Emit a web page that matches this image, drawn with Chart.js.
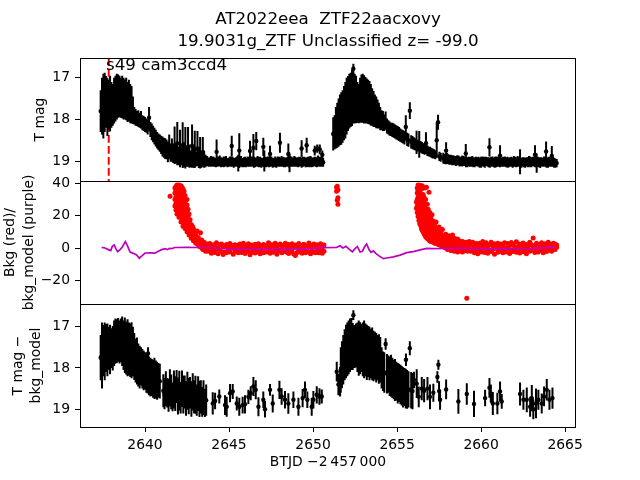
<!DOCTYPE html>
<html>
<head>
<meta charset="utf-8">
<title>AT2022eea light curve</title>
<script src="https://cdn.jsdelivr.net/npm/chart.js@4.4.1/dist/chart.umd.min.js"></script>
<style>
  html, body { margin: 0; padding: 0; background: #fff; }
  #fig { position: relative; width: 640px; height: 480px; overflow: hidden; }
  #fig canvas { position: absolute; left: 0; }
</style>
</head>
<body>
<div id="fig">
  <canvas id="lc" width="640" height="200" style="top:0"></canvas>
  <canvas id="bkg" width="640" height="170" style="top:160px"></canvas>
  <canvas id="sub" width="640" height="190" style="top:290px"></canvas>
</div>
<script>
// ---- labels / axes ----
const titleLines = ['AT2022eea  ZTF22aacxovy', '19.9031g_ZTF Unclassified z= -99.0'];
const sectorLabel = 's49 cam3ccd4';
const sectorLabelAt = [2637.68, 16.82];
const eventTime = 2637.84;
const xMin = 2636.13, xMax = 2665.65;
const timeTicks = [2640, 2645, 2650, 2655, 2660, 2665];
const magTicks = [17, 18, 19];
const bkgTicks = [-20, 0, 20, 40];

// ---- top panel: T mag  [time, mag, err] ----
const topRise1 = [
  [2637.36,17.80,0.50],[2637.44,17.68,0.68],[2637.52,17.68,0.78],[2637.60,17.59,0.71],[2637.68,17.58,0.62],[2637.76,17.70,0.70],[2637.84,17.65,0.60],[2637.92,17.62,0.67],[2638.00,17.65,0.55],[2638.08,17.65,0.50],
  [2638.16,17.55,0.55],[2638.24,17.50,0.55],[2638.32,17.45,0.55],[2638.40,17.44,0.52],[2638.48,17.45,0.50],[2638.56,17.48,0.48],[2638.64,17.46,0.51],[2638.72,17.50,0.50],[2638.80,17.52,0.48],[2638.88,17.51,0.51],
  [2638.96,17.58,0.48],[2639.04,17.55,0.50],[2639.12,17.62,0.47],[2639.20,17.65,0.45],[2639.28,17.78,0.33],[2639.36,17.91,0.21],[2639.44,17.95,0.20],[2639.52,17.98,0.18],[2639.60,17.98,0.20],[2639.68,18.02,0.18],
  [2639.76,18.01,0.21],[2639.84,18.08,0.18],[2639.92,18.10,0.18],[2640.00,18.12,0.18],[2640.08,18.15,0.17],[2640.16,18.18,0.18],[2640.24,17.96,0.26],[2640.32,18.24,0.18],[2640.40,18.30,0.20],[2640.48,18.35,0.20],
  [2640.56,18.40,0.20],[2640.64,18.45,0.20],[2640.72,18.50,0.20],[2640.80,18.54,0.20],[2640.88,18.57,0.21],[2640.96,18.61,0.22],[2641.04,18.65,0.24],[2641.12,18.68,0.24],[2641.20,18.70,0.25]
];
const topDecline1 = [
  [2641.28,18.72,0.24],[2641.36,18.78,0.25],[2641.44,18.66,0.30],[2641.52,18.80,0.22],[2641.60,18.74,0.28],[2641.68,18.85,0.20],[2641.76,18.62,0.45],[2641.84,18.82,0.24],[2641.92,18.58,0.52],[2642.00,18.88,0.22],
  [2642.08,18.70,0.45],[2642.16,18.90,0.20],[2642.24,18.62,0.55],[2642.32,18.85,0.30],[2642.40,18.68,0.50],[2642.48,18.92,0.22],[2642.56,18.66,0.48],[2642.64,18.88,0.28],[2642.72,18.95,0.20],[2642.80,18.64,0.52],
  [2642.88,18.90,0.26],[2642.96,18.72,0.45],[2643.04,18.95,0.18],[2643.12,18.70,0.42],[2643.20,18.92,0.25],[2643.28,18.80,0.38],[2643.36,18.98,0.18],[2643.44,18.78,0.36],[2643.52,18.96,0.20],[2643.60,19.00,0.15]
];
const topQuiet1 = [
  [2643.70,19.00,0.12],[2643.85,19.02,0.11],[2644.00,19.01,0.12],[2644.15,19.03,0.11],[2644.30,19.02,0.12],[2644.45,19.00,0.13],[2644.60,19.03,0.11],[2644.75,19.02,0.12],[2644.90,19.04,0.11],[2645.05,19.01,0.12],
  [2645.20,19.02,0.12],[2645.35,19.03,0.11],[2645.50,19.01,0.13],[2645.65,19.02,0.12],[2645.80,19.04,0.11],[2645.95,19.02,0.12],[2646.10,19.01,0.12],[2646.25,19.03,0.11],[2646.40,19.02,0.12],[2646.55,19.04,0.11],
  [2646.70,19.01,0.13],[2646.85,19.02,0.12],[2647.00,19.03,0.11],[2647.15,19.02,0.12],[2647.30,19.01,0.12],[2647.45,19.03,0.11],[2647.60,19.04,0.12],[2647.75,19.02,0.13],[2647.90,19.01,0.12],[2648.05,19.03,0.11],
  [2648.20,19.02,0.12],[2648.35,19.04,0.11],[2648.50,19.02,0.12],[2648.65,19.01,0.13],[2648.80,19.03,0.11],[2648.95,19.02,0.12],[2649.10,19.03,0.12],[2649.25,19.01,0.11],[2649.40,19.02,0.12],[2649.55,19.04,0.11],
  [2649.70,19.02,0.12],[2649.85,19.01,0.13],[2650.00,19.03,0.11],[2650.15,19.02,0.12],[2650.30,19.00,0.13],[2650.45,19.02,0.12],[2650.60,19.03,0.11]
];
const topQuiet1b = [
  [2643.78,19.03,0.11],[2643.92,19.01,0.13],[2644.08,19.02,0.12],[2644.22,19.04,0.11],[2644.38,19.01,0.12],[2644.52,19.03,0.12],[2644.68,19.02,0.13],[2644.82,19.00,0.12],[2644.98,19.03,0.11],[2645.12,19.02,0.12],
  [2645.28,19.04,0.12],[2645.42,19.02,0.11],[2645.58,19.03,0.12],[2645.72,19.01,0.13],[2645.88,19.03,0.12],[2646.02,19.04,0.11],[2646.18,19.02,0.12],[2646.32,19.01,0.12],[2646.48,19.03,0.13],[2646.62,19.02,0.11],
  [2646.78,19.03,0.12],[2646.92,19.04,0.12],[2647.08,19.01,0.11],[2647.22,19.03,0.12],[2647.38,19.02,0.13],[2647.52,19.01,0.12],[2647.68,19.03,0.11],[2647.82,19.04,0.12],[2647.98,19.02,0.12],[2648.12,19.01,0.13],
  [2648.28,19.03,0.12],[2648.42,19.02,0.11],[2648.58,19.04,0.12],[2648.72,19.02,0.12],[2648.88,19.01,0.13],[2649.02,19.03,0.11],[2649.18,19.02,0.12],[2649.32,19.04,0.12],[2649.48,19.01,0.11],[2649.62,19.03,0.12],
  [2649.78,19.02,0.13],[2649.92,19.03,0.12],[2650.08,19.01,0.11],[2650.22,19.03,0.12],[2650.38,19.02,0.12],[2650.52,19.01,0.13]
];
const topSpikes1 = [
  [2644.26,18.78,0.30],[2645.16,18.64,0.25],[2645.55,19.05,0.20],[2645.61,18.75,0.42],[2646.25,18.76,0.25],[2646.45,18.68,0.33],[2646.62,18.52,0.22],[2647.04,18.66,0.22],[2647.10,19.00,0.25],[2647.44,18.83,0.20],
  [2648.03,18.56,0.24],[2648.53,18.83,0.25],[2648.60,19.05,0.22],[2649.32,18.70,0.20],[2649.62,18.62,0.18],[2650.10,18.75,0.12],[2650.25,18.70,0.10],[2650.40,18.72,0.12],[2650.55,18.85,0.10]
];
const topRise2 = [
  [2651.20,18.35,0.40],[2651.28,18.31,0.41],[2651.36,18.20,0.50],[2651.44,18.14,0.54],[2651.52,18.08,0.58],[2651.60,18.01,0.61],[2651.68,17.98,0.63],[2651.76,17.93,0.63],[2651.84,17.85,0.65],[2651.92,17.78,0.68],
  [2652.00,17.68,0.68],[2652.08,17.62,0.66],[2652.16,17.56,0.66],[2652.24,17.53,0.65],[2652.32,17.48,0.68],[2652.40,16.78,0.12],[2652.42,17.50,0.60],[2652.48,17.50,0.60],[2652.56,17.52,0.57],[2652.64,17.59,0.49],
  [2652.72,17.62,0.47],[2652.80,17.54,0.54],[2652.88,17.50,0.58],[2652.96,17.49,0.59],[2653.04,17.52,0.58],[2653.12,17.54,0.56],[2653.20,17.56,0.54],[2653.28,17.58,0.53],[2653.36,17.60,0.52],[2653.44,17.65,0.50],
  [2653.52,17.70,0.45],[2653.60,17.75,0.43],[2653.68,17.79,0.39],[2653.76,17.83,0.38],[2653.84,17.87,0.35],[2653.92,17.91,0.31],[2654.00,17.98,0.28],[2654.08,18.02,0.24],[2654.16,18.04,0.24],[2654.24,18.08,0.20],
  [2654.32,18.03,0.22],[2654.40,18.16,0.18],[2654.48,18.19,0.17],[2654.56,18.22,0.17],[2654.64,18.24,0.16],[2654.72,18.25,0.17],[2654.80,18.27,0.17],[2654.88,18.29,0.17],[2654.96,18.31,0.17],[2655.04,18.33,0.17],
  [2655.12,18.35,0.17],[2655.20,18.38,0.16],[2655.28,18.40,0.16],[2655.36,18.42,0.16],[2655.44,18.44,0.16],[2655.52,18.18,0.28],[2655.60,18.48,0.16],[2655.68,18.50,0.16],[2655.76,17.79,0.20],[2655.84,18.54,0.16],
  [2655.92,18.56,0.16],[2656.00,18.58,0.15],[2656.08,18.60,0.15],[2656.16,18.55,0.28],[2656.24,18.63,0.14],[2656.32,18.60,0.32],[2656.40,18.66,0.14],[2656.48,18.68,0.14],[2656.56,18.70,0.13],[2656.64,18.72,0.13],
  [2656.72,18.57,0.26],[2656.80,18.75,0.13],[2656.88,18.77,0.12],[2656.96,18.78,0.12],[2657.04,18.80,0.12],[2657.12,18.82,0.12],[2657.20,18.83,0.11],[2657.28,18.85,0.11],[2657.36,18.50,0.42],[2657.44,18.07,0.18],
  [2657.52,18.89,0.11],[2657.60,18.91,0.11]
];
const topQuiet2 = [
  [2657.75,18.93,0.13],[2657.90,18.95,0.13],[2658.05,18.96,0.12],[2658.20,18.97,0.12],[2658.35,18.98,0.12],[2658.50,19.00,0.12],[2658.65,18.99,0.12],[2658.80,19.01,0.11],[2658.95,19.00,0.12],[2659.10,19.02,0.13],
  [2659.25,19.01,0.11],[2659.40,19.02,0.12],[2659.55,19.03,0.12],[2659.70,19.01,0.11],[2659.85,19.02,0.12],[2660.00,19.03,0.13],[2660.15,19.02,0.12],[2660.30,19.01,0.11],[2660.45,19.03,0.12],[2660.60,19.02,0.12],
  [2660.75,19.04,0.11],[2660.90,19.02,0.13],[2661.05,19.01,0.12],[2661.20,19.03,0.11],[2661.35,19.02,0.12],[2661.50,19.03,0.12],[2661.65,19.04,0.11],[2661.80,19.02,0.12],[2661.95,19.01,0.13],[2662.10,19.03,0.12],
  [2662.25,19.02,0.11],[2662.40,19.04,0.12],[2662.55,19.03,0.12],[2662.70,19.02,0.11],[2662.85,19.01,0.13],[2663.00,19.03,0.12],[2663.15,19.02,0.11],[2663.30,19.04,0.12],[2663.45,19.03,0.12],[2663.60,19.02,0.11],
  [2663.75,19.01,0.12],[2663.90,19.03,0.13],[2664.05,19.02,0.12],[2664.20,19.03,0.11],[2664.35,19.04,0.12],[2664.50,19.05,0.10]
];
const topQuiet2b = [
  [2657.82,18.95,0.12],[2657.98,18.94,0.13],[2658.12,18.97,0.12],[2658.28,18.98,0.12],[2658.42,18.99,0.11],[2658.58,18.98,0.12],[2658.72,19.01,0.12],[2658.88,19.00,0.13],[2659.02,19.01,0.11],[2659.18,19.03,0.12],
  [2659.32,19.02,0.12],[2659.48,19.01,0.13],[2659.62,19.03,0.12],[2659.78,19.02,0.11],[2659.92,19.04,0.12],[2660.08,19.01,0.12],[2660.22,19.03,0.13],[2660.38,19.02,0.11],[2660.52,19.04,0.12],[2660.68,19.01,0.12],
  [2660.82,19.03,0.13],[2660.98,19.02,0.12],[2661.12,19.04,0.11],[2661.28,19.02,0.12],[2661.42,19.01,0.12],[2661.58,19.03,0.13],[2661.72,19.02,0.11],[2661.88,19.04,0.12],[2662.02,19.02,0.12],[2662.18,19.01,0.13],
  [2662.32,19.03,0.12],[2662.48,19.02,0.11],[2662.62,19.04,0.12],[2662.78,19.03,0.12],[2662.92,19.02,0.13],[2663.08,19.01,0.11],[2663.22,19.03,0.12],[2663.38,19.02,0.12],[2663.52,19.04,0.13],[2663.68,19.03,0.11],
  [2663.82,19.02,0.12],[2663.98,19.04,0.12],[2664.12,19.03,0.11],[2664.28,19.02,0.12],[2664.42,19.05,0.11]
];
const topSpikes2 = [
  [2657.92,18.75,0.20],[2659.09,18.82,0.23],[2660.50,18.67,0.22],[2661.13,18.87,0.25],[2662.32,19.02,0.30],[2663.21,18.85,0.23],[2663.31,19.05,0.23],[2663.87,18.77,0.24],[2664.21,18.88,0.24]
];

// ---- middle panel: background flux  [time, [values...]] ----
const bkgFlare1 = [
  [2641.49,[32]],
  [2641.78,[26,30,34,37]],[2641.84,[23.5,27.5,31.5,35.5,38]],[2641.90,[21,25,29,33,37,39]],[2641.96,[22.5,26.5,30.5,34.5,38.5]],
  [2642.02,[19,23,27,31,35,39]],[2642.08,[20.5,24.5,28.5,32.5,36.5]],[2642.14,[16,20,24,28,32,36,38.5]],[2642.20,[17.5,21.5,25.5,29.5,33.5,37.5]],
  [2642.26,[13.5,17,21,25,29,33,36.5]],[2642.32,[15,19,23,27,31,35]],[2642.38,[12,16.5,20.5,24.5,28.5,32.5]],[2642.44,[13.5,18,22,26,30]],
  [2642.50,[10,14,18.5,22.5,26.5,30]],[2642.56,[11.5,15.5,19.5,24]],[2642.62,[8,12.5,16.5,21]],[2642.68,[9.5,13.5,17.5]],
  [2642.75,[6,10.5,14.5]],[2642.82,[7.5,11.5,13.5]],[2642.88,[4.5,8.5,12]],[2642.95,[5.5,9.5]],[2643.02,[3,7,9]],[2643.10,[4.5,10.5]],
  [2643.17,[2,6.5]],[2643.24,[1,4.5]],[2643.30,[3,9.5]],[2643.37,[0,5]],[2643.44,[-1,2.5]],[2643.52,[0.5,3.5]],[2643.60,[-2,1.5]],[2643.68,[-0.5,2.5]]
];
const bkgQuiet1 = [
  [2643.75,[1.5,-2.0]],[2643.85,[2.8,-1.0]],[2643.95,[0.5,-3.2]],[2644.05,[2.0,-1.5]],[2644.15,[1.0,-2.8]],[2644.25,[3.2,-0.5]],[2644.35,[0.0,-3.5]],[2644.45,[1.8,-1.8]],[2644.55,[2.5,-2.2]],[2644.65,[0.8,-4.0]],
  [2644.75,[1.2,-2.5]],[2644.85,[2.2,-3.0]],[2644.95,[0.3,-1.2]],[2645.05,[2.8,-2.5]],[2645.15,[1.5,-0.2]],[2645.25,[-3.8,1.0]],[2645.35,[-1.5,2.0]],[2645.45,[-2.2,0.6]],[2645.55,[-3.0,1.7]],[2645.65,[-0.6,2.4]],
  [2645.75,[-2.8,0.9]],[2645.85,[-1.9,3.0]],[2645.95,[-3.4,0.2]],[2646.05,[1.4,-2.1]],[2646.15,[2.6,-1.1]],[2646.25,[-4.2,0.7]],[2646.35,[1.9,-2.6]],[2646.45,[0.4,-1.4]],[2646.55,[2.3,-3.1]],[2646.65,[1.1,-0.9]],
  [2646.75,[2.7,-2.3]],[2646.85,[0.1,-3.6]],[2646.95,[1.6,-1.6]],[2647.05,[2.1,-2.9]],[2647.15,[0.9,-0.4]],[2647.25,[1.7,-2.4]],[2647.35,[3.3,-1.3]],[2647.45,[0.6,-3.3]],[2647.55,[2.0,-1.7]],[2647.65,[1.3,-2.6]],
  [2647.75,[2.9,-0.8]],[2647.85,[0.2,-3.9]],[2647.95,[1.8,-2.0]],[2648.05,[2.4,-1.2]],[2648.15,[0.7,-3.0]],[2648.25,[1.5,-2.2]],[2648.35,[3.0,-1.5]],[2648.45,[0.4,-2.7]],[2648.55,[2.2,-3.4]],[2648.65,[1.0,-1.0]],
  [2648.75,[2.6,-2.1]],[2648.85,[0.5,-3.7]],[2648.95,[1.9,-4.6]],[2649.05,[1.2,-2.8]],[2649.15,[2.8,-1.4]],[2649.25,[0.3,-2.5]],[2649.35,[1.6,-3.2]],[2649.45,[2.3,-1.1]],[2649.55,[0.8,-2.9]],[2649.65,[1.4,-1.9]],
  [2649.75,[3.1,-2.4]],[2649.85,[0.6,-3.5]],[2649.95,[1.7,-1.3]],[2650.05,[2.5,-2.6]],[2650.15,[0.9,-3.0]],[2650.25,[2.0,-1.6]],[2650.35,[1.1,-2.9]],[2650.45,[2.7,-1.2]],[2650.55,[0.4,-3.3]],[2650.65,[1.8,-2.0]]
];
const bkgBurst = [
  [2651.40,[37.5,35]],[2651.44,[38.2,29.5]],[2651.48,[36,31,27]]
];
const bkgFlare2 = [
  [2656.15,[24.5,28.5]],[2656.20,[22,26,30,34,37]],[2656.25,[19.5,23.5,27.5,31.5,35.5,39]],[2656.30,[17,21,25,29,33,37.5]],
  [2656.35,[15,19,23,27,31,35,38.8]],[2656.40,[14,17.5,21.5,25.5,29.5,33.5]],[2656.45,[12,16,20,24,28,32,36.5]],[2656.50,[11,14.5,18.5,22.5,26.5,30.5,38.5]],
  [2656.55,[10,13,17,21,25,29,33]],[2656.60,[9,11.5,15.5,19.5,23.5,27.5,31.5]],[2656.65,[8,10.5,14,18,22,26,37]],[2656.70,[7,9.5,12.5,16.5,20.5,24.5,30]],
  [2656.75,[6.5,9,11.5,15,19,23,37.5]],[2656.80,[6,8.5,11,14,18,22,27]],[2656.85,[5.5,8,10.5,13,16.5,20,24]],[2656.90,[5,7.5,10,12.5,15.5,19,34.5]],
  [2656.95,[4.5,7,9.5,12,15,18,22]],[2657.00,[4,6.5,9,11.5,14.5,18.5]],[2657.08,[4,6,8.5,11,14,17,20.5]],[2657.16,[3.5,6,8,10.5,13.5,16.5]],
  [2657.24,[3,5.5,8,10.5,13,15.5]],[2657.32,[3,5,7.5,10,12.5,16]],[2657.40,[2.5,5,7,9.5,12]],[2657.50,[2,4.5,6.5,9,11,13]],
  [2657.60,[1.5,4,6,8,10]],[2657.70,[1,3.5,5.5,8,11.5]],[2657.80,[0.5,3,5,7.5]],[2657.90,[0,2.5,5,8.5]],
  [2658.00,[-1,2,4.5,6.5]],[2658.10,[0,2.5,5,7.5]],[2658.20,[-1.5,1.5,4,5.5]],[2658.30,[-0.5,2.5,5.5,8]],
  [2658.40,[-2,1,3.5,6]],[2658.50,[-1,2,4]],[2658.60,[-2.5,0.5,3,5.5]],[2658.70,[-1.5,1.5,4.5]],[2658.80,[-2,0.5,3.5]],
  [2658.90,[-2.5,1,4]],[2659.00,[-0.5,2,3]],[2659.10,[-1.5,1,3.5]],[2659.15,[-31]],[2659.20,[-2,0.5,2.5]],[2659.30,[-1,1.5,4]]
];
const bkgQuiet2 = [
  [2659.40,[2.5,-2.0]],[2659.50,[3.5,-0.5]],[2659.60,[1.0,-3.0]],[2659.70,[2.8,-1.2]],[2659.80,[0.5,-3.5]],[2659.90,[3.0,-1.8]],[2660.00,[1.5,-2.5]],[2660.10,[4.0,0.0]],[2660.20,[2.2,-2.8]],[2660.30,[3.2,-1.0]],
  [2660.40,[0.8,-3.2]],[2660.50,[2.0,-1.5]],[2660.60,[3.6,-2.2]],[2660.70,[1.2,-0.8]],[2660.80,[2.6,-3.8]],[2660.90,[1.8,-0.3]],[2661.00,[3.0,-2.6]],[2661.10,[0.6,-1.4]],[2661.20,[2.4,-2.0]],[2661.30,[1.4,-3.0]],
  [2661.40,[3.2,-1.6]],[2661.50,[0.2,-2.4]],[2661.60,[2.8,-0.6]],[2661.70,[1.6,-3.4]],[2661.80,[3.4,-1.2]],[2661.90,[2.0,-2.2]],[2662.00,[1.0,-0.9]],[2662.10,[3.8,-2.7]],[2662.20,[0.9,-1.8]],[2662.30,[2.5,-3.1]],
  [2662.40,[1.7,-1.0]],[2662.50,[3.1,-2.3]],[2662.60,[0.4,-1.5]],[2662.70,[2.2,-3.6]],[2662.80,[1.3,-0.7]],[2662.90,[3.5,-2.0]],[2663.00,[2.0,-1.3]],[2663.10,[6.2,0.8]],[2663.20,[1.6,-2.8]],[2663.30,[3.0,-0.9]],
  [2663.40,[2.1,-2.5]],[2663.50,[0.7,-1.6]],[2663.60,[3.3,-1.1]],[2663.70,[1.9,-2.9]],[2663.80,[2.7,-0.5]],[2663.90,[1.2,-2.2]],[2664.00,[3.6,-1.4]],[2664.10,[2.3,-0.8]],[2664.20,[1.5,-2.0]],[2664.30,[3.0,-0.4]],
  [2664.40,[2.4,-1.0]],[2664.50,[1.8,0.5]]
];
// background model (purple)  [time, value]
const bkgModel = [
  [2637.42,0.4],[2637.62,0.0],[2637.82,-1.0],[2637.96,-1.6],[2638.05,1.0],[2638.17,1.8],[2638.27,-0.5],[2638.37,-2.3],[2638.51,-1.0],[2638.65,0.6],
  [2638.83,4.0],[2638.97,1.0],[2639.11,-2.5],[2639.30,-3.3],[2639.50,-4.3],[2639.66,-6.3],[2639.80,-5.0],[2640.00,-3.1],[2640.30,-3.0],[2640.59,-3.2],
  [2640.79,-2.0],[2640.99,-1.0],[2641.19,-0.4],[2641.33,-1.0],[2641.45,-0.2],[2641.59,-0.4],[2641.78,0.3],[2642.48,0.4],[2643.27,0.3],[2644.07,0.0],
  [2645.06,-0.6],[2646.05,-0.3],[2647.04,-0.8],[2648.03,-1.0],[2649.03,-0.6],[2650.02,-0.4],[2650.61,0.2],[2651.41,0.4],[2651.61,1.4],[2651.77,0.0],
  [2651.96,1.0],[2652.16,-0.8],[2652.34,-2.3],[2652.50,-0.4],[2652.64,0.8],[2652.80,-2.5],[2652.94,-2.0],[2653.06,0.6],[2653.19,2.5],[2653.33,-1.0],
  [2653.45,-2.7],[2653.59,-1.8],[2653.75,-3.5],[2653.95,-5.0],[2654.19,-6.6],[2654.48,-6.0],[2654.78,-5.5],[2655.18,-4.4],[2655.57,-2.9],[2655.97,-2.2],
  [2656.37,-1.2],[2656.77,-0.2],[2657.16,-0.4],[2657.96,-0.3],[2658.75,-0.1],[2659.54,-0.4],[2660.73,-0.6],[2661.92,-0.4],[2663.12,-0.2],[2664.40,0.6]
];

// ---- bottom panel: T mag - bkg_model  [time, mag, err] ----
const subRise1 = [
  [2637.36,17.75,0.55],[2637.44,17.70,0.80],[2637.52,17.58,0.62],[2637.60,17.60,0.70],[2637.68,17.52,0.58],[2637.76,17.56,0.64],[2637.84,17.52,0.52],[2637.92,17.55,0.60],[2638.00,17.52,0.48],[2638.08,17.52,0.54],
  [2638.16,17.40,0.55],[2638.24,17.35,0.55],[2638.32,17.35,0.53],[2638.40,17.32,0.53],[2638.48,17.37,0.52],[2638.56,17.33,0.53],[2638.64,17.35,0.60],[2638.72,17.45,0.60],[2638.80,17.45,0.67],[2638.88,17.52,0.64],
  [2638.96,17.51,0.69],[2639.04,17.54,0.64],[2639.12,17.57,0.65],[2639.20,17.57,0.68],[2639.28,17.60,0.60],[2639.36,17.72,0.57],[2639.44,17.82,0.53],[2639.52,17.83,0.57],[2639.60,17.93,0.52],[2639.68,17.98,0.52],
  [2639.76,17.96,0.46],[2639.84,18.02,0.48],[2639.92,18.06,0.48],[2640.00,18.07,0.45],[2640.08,18.12,0.48],[2640.16,18.16,0.46],[2640.18,17.65,0.15],[2640.24,18.19,0.47],[2640.32,18.22,0.47],[2640.40,18.23,0.45],
  [2640.48,18.26,0.46],[2640.56,18.25,0.50],[2640.64,18.28,0.46],[2640.72,18.31,0.46],[2640.80,18.30,0.42],[2640.88,18.32,0.42]
];
const subDecline1 = [
  [2641.09,18.55,0.40],[2641.16,18.62,0.38],[2641.24,18.50,0.42],[2641.32,18.60,0.36],[2641.40,18.66,0.40],[2641.48,18.48,0.45],[2641.56,18.58,0.42],[2641.64,18.70,0.35],[2641.72,18.52,0.46],[2641.80,18.62,0.42],
  [2641.88,18.45,0.40],[2641.96,18.68,0.45],[2642.04,18.55,0.48],[2642.12,18.72,0.38],[2642.20,18.50,0.44],[2642.28,18.64,0.46],[2642.36,18.58,0.40],[2642.44,18.74,0.42],[2642.52,18.55,0.46],[2642.60,18.68,0.44],
  [2642.68,18.60,0.38],[2642.76,18.75,0.43],[2642.84,18.58,0.45],[2642.92,18.70,0.40],[2643.00,18.65,0.46],[2643.08,18.78,0.38],[2643.16,18.62,0.42],[2643.24,18.75,0.44],[2643.32,18.70,0.40],[2643.40,18.82,0.36],
  [2643.48,18.72,0.42],[2643.56,18.85,0.34],[2643.64,18.78,0.38]
];
const subQuiet1 = [
  [2644.03,18.86,0.27],[2644.17,18.80,0.20],[2644.42,18.69,0.17],[2644.76,18.90,0.24],[2644.86,18.94,0.24],[2645.06,18.61,0.22],[2645.22,18.57,0.18],[2645.46,18.86,0.17],[2645.61,18.94,0.22],[2645.81,18.90,0.20],
  [2645.95,18.88,0.22],[2646.15,18.70,0.17],[2646.29,18.61,0.17],[2646.45,18.45,0.23],[2646.59,18.53,0.23],[2646.75,18.94,0.23],[2647.04,18.77,0.20],[2647.14,19.00,0.20],[2647.44,18.53,0.14],[2647.60,18.86,0.22],
  [2648.00,18.53,0.22],[2648.13,18.69,0.20],[2648.33,18.77,0.21],[2648.53,18.86,0.25],[2648.83,18.77,0.20],[2649.13,18.94,0.22],[2649.38,18.73,0.22],[2649.52,18.53,0.20],[2649.66,18.77,0.20],[2649.92,18.94,0.22],
  [2650.02,18.77,0.21],[2650.22,18.65,0.21],[2650.38,18.69,0.20],[2650.52,18.69,0.17]
];
const subRise2 = [
  [2651.41,18.09,0.24],[2651.51,18.40,0.26],[2651.61,18.33,0.36],[2651.65,18.05,0.55],[2651.72,17.92,0.57],[2651.80,17.80,0.60],[2651.88,17.68,0.62],[2651.96,17.60,0.65],[2652.04,17.55,0.65],[2652.12,17.50,0.65],
  [2652.20,17.45,0.65],[2652.28,17.42,0.63],[2652.36,17.48,0.57],[2652.40,16.72,0.12],[2652.48,17.48,0.52],[2652.56,17.45,0.53],[2652.64,17.50,0.60],[2652.72,17.52,0.67],[2652.80,17.52,0.63],[2652.88,17.52,0.58],
  [2652.96,17.55,0.65],[2653.04,17.55,0.70],[2653.12,17.56,0.64],[2653.20,17.62,0.67],[2653.28,17.60,0.62],[2653.36,17.65,0.65],[2653.44,17.65,0.60],[2653.52,17.66,0.64],[2653.60,17.71,0.61],[2653.68,17.70,0.58],
  [2653.76,17.75,0.60],[2653.84,17.75,0.55],[2653.92,17.78,0.60],[2654.00,17.80,0.55],[2654.08,18.00,0.50],[2654.16,18.08,0.48],[2654.24,18.11,0.49],[2654.32,17.42,0.14],[2654.40,18.14,0.48],[2654.48,18.15,0.45],
  [2654.56,18.20,0.48],[2654.64,18.19,0.51],[2654.72,18.24,0.49],[2654.80,18.28,0.48],[2654.88,18.29,0.51],[2654.96,18.32,0.47],[2655.04,18.37,0.49],[2655.12,18.36,0.46],[2655.20,18.40,0.48],[2655.28,18.43,0.48],
  [2655.36,18.47,0.49],[2655.44,18.46,0.46],[2655.52,18.50,0.48],[2655.53,17.80,0.15],[2655.60,18.52,0.47],[2655.68,18.52,0.44],[2655.76,17.52,0.17],[2655.84,18.54,0.44],[2655.92,18.56,0.44]
];
const subQuiet2 = [
  [2656.01,18.29,0.20],[2656.17,18.38,0.35],[2656.29,18.70,0.25],[2656.47,18.50,0.28],[2656.61,18.55,0.28],[2656.81,18.50,0.28],[2656.96,18.70,0.30],[2657.16,18.60,0.22],[2657.40,18.22,0.14],[2657.46,17.92,0.12],
  [2657.50,18.56,0.24],[2657.56,18.77,0.24],[2657.92,18.52,0.24],[2658.65,18.81,0.30],[2659.15,18.63,0.26],[2659.58,18.87,0.32],[2660.24,18.73,0.20],[2660.50,18.48,0.24],[2660.58,18.62,0.22],[2660.70,18.86,0.28],
  [2660.97,18.86,0.26],[2661.13,18.57,0.24],[2661.23,18.81,0.18],[2662.32,18.63,0.28],[2662.52,18.77,0.24],[2662.72,18.77,0.30],[2662.92,18.94,0.24],[2663.02,18.73,0.32],[2663.11,19.00,0.24],[2663.27,18.86,0.36],
  [2663.41,18.77,0.24],[2663.61,18.86,0.24],[2663.75,18.69,0.24],[2663.91,18.53,0.26],[2664.07,18.77,0.24],[2664.25,18.73,0.26]
];

// ---- helpers ----
const ink = '#000';
Chart.defaults.font.family = "'DejaVu Sans', sans-serif";
Chart.defaults.font.size = 13.9;
Chart.defaults.color = ink;

const topRows = [...topRise1, ...topDecline1, ...topQuiet1, ...topQuiet1b, ...topSpikes1,
                 ...topRise2, ...topQuiet2, ...topQuiet2b, ...topSpikes2];
const subRows = [...subRise1, ...subDecline1, ...subQuiet1, ...subRise2, ...subQuiet2];
const bkgCols = [...bkgFlare1, ...bkgQuiet1, ...bkgBurst, ...bkgFlare2, ...bkgQuiet2];

// error bars as one broken line: low, high, gap
const errorBars = rows => rows.flatMap(([t, m, e]) => [{ x: t, y: m - e }, { x: t, y: m + e }, { x: t, y: null }]);
const dots = rows => rows.map(([t, m]) => ({ x: t, y: m }));
const columnDots = cols => cols.flatMap(([t, vs]) => vs.map(v => ({ x: t, y: v })));

const tickList = values => scale => { scale.ticks = values.map(value => ({ value })); };
const minus = v => String(v).replace('-', '\u2212');

function yAxis(min, max, reverse, ticks, title, pad) {
  return {
    type: 'linear', position: 'left', min, max, reverse,
    afterBuildTicks: tickList(ticks),
    // fixed gutter, and no extra room for half-labels at the ends
    afterFit: s => { s.width = 80; s.paddingTop = 0; s.paddingBottom = 0; },
    ticks: { padding: 5, autoSkip: false, callback: minus },
    grid: { drawOnChartArea: false, tickLength: 5, color: ink, lineWidth: 1 },
    border: { display: false },
    title: { display: true, text: title, padding: { top: pad, bottom: 0 }, font: { size: 13.9, lineHeight: 1.3 } }
  };
}

function xAxis(shown) {
  const ax = { type: 'linear', min: xMin, max: xMax, display: shown };
  if (shown) {
    Object.assign(ax, {
      afterBuildTicks: tickList(timeTicks),
      afterFit: s => { s.height = 47; s.paddingLeft = 0; s.paddingRight = 0; },
      ticks: { padding: 5, maxRotation: 0, autoSkip: false, callback: v => String(v) },
      grid: { drawOnChartArea: false, tickLength: 5, color: ink, lineWidth: 1 },
      border: { display: false },
      title: { display: true, text: 'BTJD \u22122\u2009457\u2009000', padding: { top: 0, bottom: 3 } }
    });
  }
  return ax;
}

const frame = {
  id: 'frame',
  afterDraw(chart) {
    const { ctx, chartArea: a } = chart;
    const l = Math.round(a.left), t = Math.round(a.top), r = Math.round(a.right), b = Math.round(a.bottom);
    ctx.save();
    ctx.strokeStyle = ink;
    ctx.lineWidth = 1;
    ctx.strokeRect(l + 0.5, t + 0.5, r - l - 1, b - t);
    ctx.restore();
  }
};

const eventLine = {
  id: 'eventLine',
  beforeDatasetsDraw(chart) {
    const { ctx, chartArea: a, scales: { x } } = chart;
    const px = x.getPixelForValue(eventTime);
    ctx.save();
    ctx.strokeStyle = '#ff0000';
    ctx.lineWidth = 2;
    ctx.setLineDash([7.7, 3.3]);
    ctx.beginPath();
    ctx.moveTo(px, a.top);
    ctx.lineTo(px, a.bottom);
    ctx.stroke();
    ctx.restore();
  }
};

const sectorText = {
  id: 'sectorText',
  afterDraw(chart) {
    const { ctx, scales: { x, y } } = chart;
    ctx.save();
    ctx.fillStyle = ink;
    ctx.font = "16.7px 'DejaVu Sans', sans-serif";
    ctx.textAlign = 'left';
    ctx.textBaseline = 'alphabetic';
    ctx.fillText(sectorLabel, x.getPixelForValue(sectorLabelAt[0]), y.getPixelForValue(sectorLabelAt[1]));
    ctx.restore();
  }
};

function baseOptions(scales, pad, title) {
  return {
    responsive: false,
    animation: false,
    events: [],
    devicePixelRatio: 1,
    layout: { padding: { left: 0, right: 64, top: pad[0], bottom: pad[1] }, autoPadding: false },
    scales,
    plugins: {
      legend: { display: false },
      tooltip: { enabled: false },
      title: title || { display: false }
    }
  };
}

const barStyle = { type: 'line', borderColor: ink, borderWidth: 2, pointRadius: 0, spanGaps: false, fill: false };
const dotStyle = { type: 'scatter', pointRadius: 2.2, pointBackgroundColor: ink, pointBorderWidth: 0 };

// canvas 0..200, plot area 58..181
new Chart('lc', {
  type: 'scatter',
  data: { datasets: [
    { ...barStyle, data: errorBars(topRows) },
    { ...dotStyle, data: dots(topRows) }
  ] },
  options: baseOptions(
    { x: xAxis(false), y: yAxis(16.525, 19.48, true, magTicks, 'T mag', 31) },
    [0, 19],
    { display: true, text: titleLines, fullSize: false, color: ink,
      font: { size: 16.7, lineHeight: 1.3, weight: 'normal' }, padding: { top: 9, bottom: 5.6 } }
  ),
  plugins: [eventLine, frame, sectorText]
});

// canvas 160..330, plot area 181..304
new Chart('bkg', {
  type: 'scatter',
  data: { datasets: [
    { type: 'line', data: bkgModel.map(([t, v]) => ({ x: t, y: v })), borderColor: '#bf00bf', borderWidth: 1.7, pointRadius: 0, fill: false, order: 0 },
    { type: 'scatter', data: columnDots(bkgCols), pointRadius: 2.5, pointBackgroundColor: '#ff0000', pointBorderWidth: 0, order: 1 }
  ] },
  options: baseOptions(
    { x: xAxis(false), y: yAxis(-34.6, 41.4, false, bkgTicks, ['Bkg (red)/', 'bkg_model (purple)'], 1.8) },
    [21, 26]
  ),
  plugins: [frame]
});

// canvas 290..480, plot area 304..427
new Chart('sub', {
  type: 'scatter',
  data: { datasets: [
    { ...barStyle, data: errorBars(subRows) },
    { ...dotStyle, data: dots(subRows) }
  ] },
  options: baseOptions(
    { x: xAxis(true), y: yAxis(16.45, 19.43, true, magTicks, ['T mag \u2212', 'bkg_model'], 9.6) },
    [14, 6]
  ),
  plugins: [frame]
});
</script>
</body>
</html>
